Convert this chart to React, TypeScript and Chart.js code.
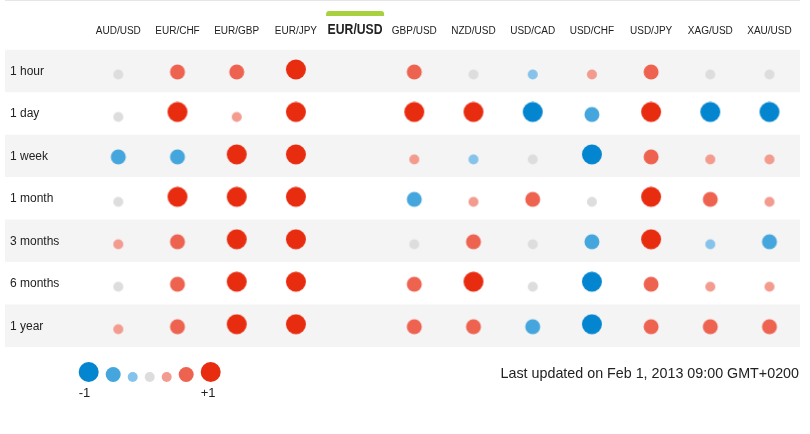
import { useEffect, useRef } from 'react';
import { Chart, registerables } from 'chart.js';

Chart.register(...registerables);

const columns = ['AUD/USD', 'EUR/CHF', 'EUR/GBP', 'EUR/JPY', 'EUR/USD', 'GBP/USD', 'NZD/USD', 'USD/CAD', 'USD/CHF', 'USD/JPY', 'XAG/USD', 'XAU/USD'];
const highlighted = 'EUR/USD';
const periods = ['1 hour', '1 day', '1 week', '1 month', '3 months', '6 months', '1 year'];

const hour1 = [0, 2, 2, 3, null, 2, 0, -1, 1, 2, 0, 0];
const day1 = [0, 3, 1, 3, null, 3, 3, -3, -2, 3, -3, -3];
const week1 = [-2, -2, 3, 3, null, 1, -1, 0, -3, 2, 1, 1];
const month1 = [0, 3, 3, 3, null, -2, 1, 2, 0, 3, 2, 1];
const months3 = [1, 2, 3, 3, null, 0, 2, 0, -2, 3, -1, -2];
const months6 = [0, 2, 3, 3, null, 2, 3, 0, -3, 2, 1, 1];
const year1 = [1, 2, 3, 3, null, 2, 2, -2, -3, 2, 2, 2];
const rows = [hour1, day1, week1, month1, months3, months6, year1];

const levels = [-3, -2, -1, 0, 1, 2, 3];
const levelColors = ['#0385CF', '#44A6DD', '#85C3EA', '#DDDDDD', '#F39B8E', '#EE6350', '#E82C10'];
const levelRadius = [10, 7.5, 5, 5, 5, 7.5, 10];
const legendLabels = ['-1', '+1'];
const updatedText = 'Last updated on Feb 1, 2013 09:00 GMT+0200';

const FONT = '"Liberation Sans", Arial, sans-serif';

function makeDot(color: string, r: number) {
  const size = 24;
  const c = document.createElement('canvas');
  c.width = size;
  c.height = size;
  const ctx = c.getContext('2d')!;
  ctx.fillStyle = color;
  ctx.beginPath();
  ctx.arc(size / 2, size / 2 + 8.5 - r, r, 0, Math.PI * 2);
  ctx.fill();
  return c;
}

const decor = {
  id: 'decor',
  beforeDatasetsDraw(chart: any) {
    const { ctx } = chart;
    const xs = chart.scales.x;
    const ys = chart.scales.y;
    ctx.save();
    ctx.fillStyle = '#E6E6E6';
    ctx.fillRect(5, 0, 795, 1);
    periods.forEach((_, j) => {
      if (j % 2 === 0) {
        const t = ys.getPixelForValue(j - 0.5);
        const b = ys.getPixelForValue(j + 0.5);
        ctx.fillStyle = '#F4F4F4';
        ctx.fillRect(5, t, 795, b - t);
      }
    });
    ctx.textAlign = 'center';
    ctx.textBaseline = 'alphabetic';
    columns.forEach((c, i) => {
      const cx = xs.getPixelForValue(i);
      if (c === highlighted) {
        ctx.fillStyle = '#A9D13F';
        ctx.beginPath();
        (ctx as any).roundRect(cx - 29, 11, 58, 5, [3, 3, 0, 0]);
        ctx.fill();
        ctx.fillStyle = '#222';
        ctx.font = `bold 14px ${FONT}`;
        ctx.fillText(c, cx, 33.5, 55);
      } else {
        ctx.fillStyle = '#222';
        ctx.font = `10px ${FONT}`;
        ctx.fillText(c, cx, 33.5);
      }
    });
    ctx.textAlign = 'left';
    ctx.textBaseline = 'middle';
    ctx.font = `12px ${FONT}`;
    ctx.fillStyle = '#222';
    periods.forEach((p, j) => {
      ctx.fillText(p, 10, ys.getPixelForValue(j) + 0.5);
    });
    let lx = 88.7;
    const bottom = 382;
    levels.forEach((_, k) => {
      if (k > 0) lx += levelRadius[k - 1] + levelRadius[k] + 7;
      const r = levelRadius[k];
      ctx.fillStyle = levelColors[k];
      ctx.beginPath();
      ctx.arc(lx, bottom - r, r, 0, Math.PI * 2);
      ctx.fill();
      if (k === 0 || k === levels.length - 1) {
        ctx.fillStyle = '#222';
        ctx.font = `13px ${FONT}`;
        ctx.textAlign = 'left';
        ctx.textBaseline = 'alphabetic';
        ctx.fillText(k === 0 ? legendLabels[0] : legendLabels[1], lx - r, 397);
      }
    });
    ctx.fillStyle = '#222';
    ctx.font = `14.3px ${FONT}`;
    ctx.textAlign = 'right';
    ctx.textBaseline = 'alphabetic';
    ctx.fillText(updatedText, 799, 378);
    ctx.restore();
  },
};

export default function App() {
  const ref = useRef<HTMLCanvasElement>(null);
  useEffect(() => {
    const datasets = levels.map((lv, k) => {
      const data: { x: number; y: number }[] = [];
      rows.forEach((row, j) => {
        row.forEach((v, i) => {
          if (v === lv) data.push({ x: i, y: j });
        });
      });
      return {
        label: String(lv),
        data,
        pointStyle: makeDot(levelColors[k], levelRadius[k]),
        pointRadius: 12,
        backgroundColor: levelColors[k],
        borderWidth: 0,
      };
    });
    const colStep = 59.2;
    const rowStep = 42.45;
    const xMin = -118.3 / colStep;
    const yMin = -71 / rowStep;
    const chart = new Chart(ref.current!, {
      type: 'scatter',
      data: { datasets } as any,
      options: {
        animation: false,
        responsive: false,
        events: [],
        layout: { padding: 0, autoPadding: false },
        plugins: { legend: { display: false }, tooltip: { enabled: false } },
        scales: {
          x: { type: 'linear', display: false, min: xMin, max: xMin + 810 / colStep },
          y: { type: 'linear', display: false, reverse: true, min: yMin, max: yMin + 434 / rowStep },
        },
      } as any,
      plugins: [decor],
    });
    return () => chart.destroy();
  }, []);
  return (
    <div style={{ position: 'absolute', left: 0, top: 0, width: 810, height: 434, background: '#fff' }}>
      <canvas ref={ref} width={810} height={434} style={{ display: 'block' }} />
    </div>
  );
}
